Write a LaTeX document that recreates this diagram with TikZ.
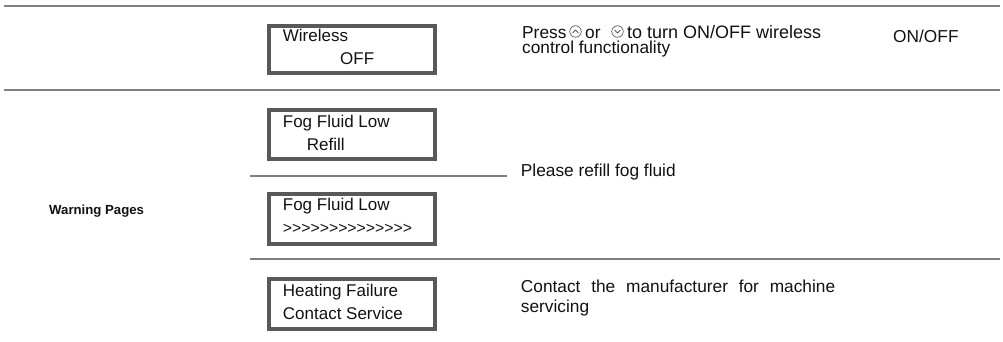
\documentclass[tikz,border=0pt]{standalone}
\usepackage{fontspec}
\setmainfont{Liberation Sans}
\usetikzlibrary{calc}
\definecolor{ruleGray}{HTML}{808080}
\definecolor{boxGray}{HTML}{595959}
\definecolor{txt}{HTML}{111111}
\newcommand{\gtchain}{{>}{>}{>}{>}{>}{>}{>}{>}{>}{>}{>}{>}{>}{>}}
\begin{document}
\begin{tikzpicture}[x=1pt,y=-1pt,
  rule/.style={draw=ruleGray, line width=2pt},
  lcd/.style={draw=boxGray, line width=4pt, rectangle, inner sep=0pt, anchor=north west},
  boxtxt/.style={anchor=base west, inner sep=0pt, text=txt, font=\fontsize{17}{19}\selectfont},
  desc/.style={anchor=base west, inner sep=0pt, text=txt, font=\fontsize{17.3}{20}\selectfont},
  keyicon/.style={circle, draw=boxGray, line width=0.7pt, minimum size=11.5pt, inner sep=0pt},
  chev/.style={draw=boxGray, line width=0.8pt, line cap=round, line join=round}]
\useasboundingbox (0,0) rectangle (1003,342);

% table rules
\draw[rule] (4,5.7) -- (1000,5.7);
\draw[rule] (4,90) -- (1000,90);
\draw[rule] (250,176) -- (507,176);
\draw[rule] (250,259) -- (1000,259);

% LCD boxes
\node[lcd, minimum width=166pt, minimum height=47pt] (b1) at (267,23.7) {};
\node[lcd, minimum width=166pt, minimum height=49pt] (b2) at (267,108) {};
\node[lcd, minimum width=166pt, minimum height=50pt] (b3) at (267,192) {};
\node[lcd, minimum width=166pt, minimum height=50pt] (b4) at (267,277) {};

% box texts
\node[boxtxt] (t1a) at (282.7,41.7) {Wireless};
\node[boxtxt] (t1b) at (340,65) {OFF};
\node[boxtxt] (t2a) at (282.7,127.3) {Fog Fluid Low};
\node[boxtxt] (t2b) at (306.7,150) {Refill};
\node[boxtxt] (t3a) at (282.7,210) {Fog Fluid Low};
\node[boxtxt, font=\fontsize{15.8}{19}\selectfont] (t3b) at (282.7,233) {\gtchain};
\node[boxtxt] (t4a) at (282.7,296.7) {Heating Failure};
\node[boxtxt] (t4b) at (282.7,319) {Contact Service};

% left label
\node[anchor=base west, inner sep=0pt, text=txt, font=\fontsize{13.2}{16}\selectfont\bfseries] (warn) at (49,214) {Warning Pages};

% description texts
\node[desc] (p1) at (522,38.5) {Press};
\node[keyicon] (kup) at (575.5,31.5) {};
\node[desc] (p2) at (585,38.5) {or};
\node[keyicon] (kdn) at (617.5,31.5) {};
\node[desc, font=\fontsize{18}{20}\selectfont] (p3) at (627,38.5) {to turn ON/OFF wireless};
\node[desc] (p4) at (522,54) {control functionality};
\draw[chev] ($(kup)+(-2.8,1.3)$) -- ($(kup)+(0,-1.5)$) -- ($(kup)+(2.8,1.3)$);
\draw[chev] ($(kdn)+(-2.8,-1.3)$) -- ($(kdn)+(0,1.5)$) -- ($(kdn)+(2.8,-1.3)$);

\node[desc] (onoff) at (893,42.5) {ON/OFF};
\node[desc] (refill) at (520.7,176) {Please refill fog fluid};
\node[desc] (c1) at (520.7,292.7) {\hbox to 314.3pt{Contact\hfill the\hfill manufacturer\hfill for\hfill machine}};
\node[desc] (c2) at (520.7,312) {servicing};
\end{tikzpicture}
\end{document}
